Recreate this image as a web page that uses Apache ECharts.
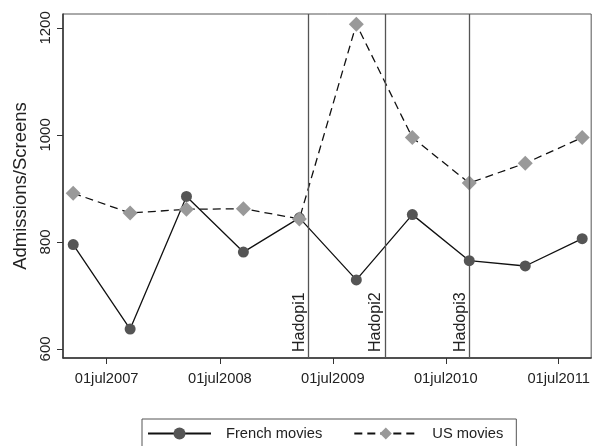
<!DOCTYPE html>
<html>
<head>
<meta charset="utf-8">
<script src="https://cdn.jsdelivr.net/npm/echarts@6/dist/echarts.min.js"></script>
<style>
html,body{margin:0;padding:0;background:#fff;}
#c{width:593px;height:446px;}
</style>
</head>
<body>
<div id="c"></div>
<script>
// ---- data ----
var periods = ['2007-03-15','2007-09-15','2008-03-15','2008-09-15','2009-03-15','2009-09-15','2010-03-15','2010-09-15','2011-03-15','2011-09-15'];
var frenchMovies = [795, 637, 885, 781, 845, 729, 851, 765, 755, 806];
var usMovies = [891, 854, 861, 862, 843, 1207, 995, 910, 947, 995];
var xTickDates = ['2007-07-01','2008-07-01','2009-07-01','2010-07-01','2011-07-01'];
var xTickLabels = ['01jul2007','01jul2008','01jul2009','01jul2010','01jul2011'];
var yTicks = [600, 800, 1000, 1200];
var hadopiNames = ['Hadopi1','Hadopi2','Hadopi3'];
var hadopiDates = ['2009-04-13','2009-12-16','2010-09-15'];

function ts(s){ return Date.UTC(+s.slice(0,4), +s.slice(5,7) - 1, +s.slice(8,10)); }

var xTickTs = xTickDates.map(ts);
var FONT = 'Liberation Sans, Arial, sans-serif';

var chart = echarts.init(document.getElementById('c'));
chart.setOption({
  backgroundColor: '#fff',
  animation: false,
  grid: {left: 63, right: 1, top: 14, bottom: 88, show: true, borderColor: '#555', borderWidth: 1},
  xAxis: {
    type: 'value',
    min: ts('2007-02-10'),
    max: ts('2011-10-14'),
    splitLine: {show: false},
    axisLine: {lineStyle: {color: '#333', width: 1.5}},
    axisTick: {show: true, length: 6, lineStyle: {color: '#333'}, customValues: xTickTs},
    axisLabel: {
      customValues: xTickTs,
      margin: 13,
      fontFamily: FONT, fontSize: 14.7, color: '#222',
      formatter: function(v){
        var best = 0, bd = Infinity;
        xTickTs.forEach(function(t, i){ var d = Math.abs(t - v); if (d < bd) { bd = d; best = i; } });
        return xTickLabels[best];
      }
    }
  },
  yAxis: {
    type: 'value',
    min: 583, max: 1226,
    name: 'Admissions/Screens',
    nameLocation: 'middle',
    nameGap: 33,
    nameTextStyle: {fontFamily: FONT, fontSize: 18.5, color: '#222'},
    splitLine: {show: false},
    axisLine: {show: true, lineStyle: {color: '#333', width: 1.5}},
    axisTick: {show: true, length: 6, lineStyle: {color: '#333'}, customValues: yTicks},
    axisLabel: {
      customValues: yTicks, rotate: 90, margin: 10,
      fontFamily: FONT, fontSize: 15, color: '#222',
      formatter: function(v){ return String(Math.round(v)); }
    }
  },
  legend: {
    data: ['French movies', 'US movies'],
    left: 142, top: 419,
    orient: 'horizontal',
    itemWidth: 63, itemHeight: 15,
    itemGap: 31,
    padding: [7, 13, 7, 5],
    borderColor: '#555', borderWidth: 1,
    backgroundColor: '#fff',
    textStyle: {fontFamily: FONT, fontSize: 14.7, color: '#222', padding: [0,0,0,10]}
  },
  series: [
    {
      name: 'hadopi', type: 'line', data: [], z: 1, silent: true,
      markLine: {
        silent: true, symbol: ['none','none'],
        lineStyle: {color: '#555', width: 1.3, type: 'solid'},
        label: {show: true, position: 'insideStartTop', formatter: '{b}', fontFamily: FONT, fontSize: 16, color: '#222', distance: [6, 1]},
        data: hadopiDates.map(function(d, i){ return {name: hadopiNames[i], xAxis: ts(d)}; })
      }
    },
    {
      name: 'French movies', type: 'line', z: 3,
      data: periods.map(function(d, i){ return [ts(d), frenchMovies[i]]; }),
      symbol: 'circle', symbolSize: 11, showSymbol: true,
      lineStyle: {color: '#111', width: 1.3},
      itemStyle: {color: '#555'}
    },
    {
      name: 'US movies', type: 'line', z: 4,
      data: periods.map(function(d, i){ return [ts(d), usMovies[i]]; }),
      symbol: 'diamond', symbolSize: 15, showSymbol: true,
      lineStyle: {color: '#111', width: 1.3, type: [8, 5]},
      itemStyle: {color: '#999'}
    }
  ]
});
</script>
</body>
</html>
